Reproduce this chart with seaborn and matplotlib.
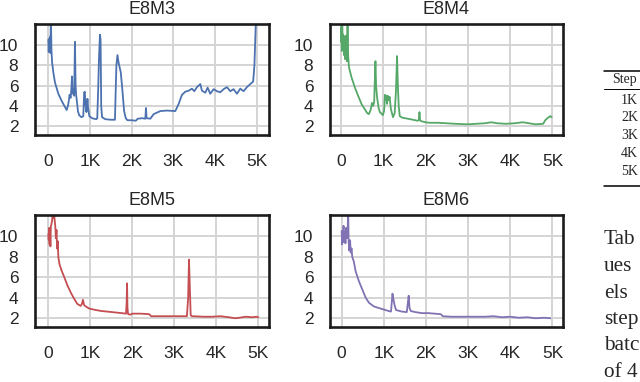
import matplotlib
matplotlib.use("Agg")
import matplotlib.pyplot as plt
import seaborn as sns
from matplotlib.lines import Line2D

# E8M3 (blue)
steps_m3 = [0, 10, 20, 30, 40, 50, 60, 75, 90, 120, 160, 240, 320, 400, 440, 470, 496, 510, 536, 555,
            568, 580, 600, 620, 640, 655, 670, 688, 710, 740, 792, 840, 860, 875, 895, 915, 940, 955,
            985, 1050, 1100, 1150, 1175, 1200, 1215, 1240, 1255, 1270, 1290, 1370, 1500, 1600, 1615,
            1635, 1660, 1690, 1740, 1780, 1820, 1860, 1900, 2000, 2100, 2150, 2250, 2330, 2345, 2360,
            2450, 2530, 2690, 2850, 3050, 3130, 3210, 3290, 3370, 3450, 3506, 3570, 3650, 3690, 3770,
            3826, 3890, 3970, 4050, 4130, 4210, 4290, 4370, 4450, 4530, 4610, 4690, 4770, 4850, 4920,
            4950, 4970, 4990]
loss_m3 = [10.5, 9.3, 10.6, 9.4, 10.8, 9.2, 13.0, 9.5, 8.3, 7.3, 6.3, 5.2, 4.5, 3.9, 3.6, 4.0, 4.6,
           5.1, 4.8, 5.8, 6.9, 5.2, 5.6, 5.0, 10.3, 6.0, 5.0, 4.4, 3.5, 3.1, 2.9, 3.0, 5.3, 5.4, 4.0,
           3.4, 4.7, 3.8, 3.0, 2.8, 2.75, 2.7, 2.8, 6.0, 8.5, 11.0, 10.5, 4.0, 2.9, 2.7, 2.65, 2.65,
           5.0, 8.0, 9.0, 8.2, 7.3, 5.5, 3.5, 2.8, 2.6, 2.6, 2.55, 2.75, 2.8, 2.75, 3.8, 2.8, 2.75,
           3.2, 3.5, 3.55, 3.5, 4.2, 5.1, 5.4, 5.5, 5.7, 5.45, 5.85, 6.15, 5.5, 5.3, 5.8, 5.2, 5.65,
           5.45, 5.35, 5.65, 5.85, 5.45, 5.65, 5.2, 5.7, 5.45, 5.85, 6.15, 6.4, 8.0, 10.5, 13.0]

# E8M4 (green)
steps_m4 = [0, 10, 20, 30, 40, 55, 70, 85, 100, 120, 140, 155, 170, 185, 200, 250, 330, 405, 485,
            560, 620, 660, 700, 735, 760, 785, 800, 815, 830, 855, 890, 920, 990, 1020, 1040, 1065,
            1090, 1105, 1125, 1150, 1180, 1230, 1270, 1300, 1326, 1345, 1365, 1390, 1450, 1580, 1700,
            1810, 1840, 1856, 1870, 1900, 2000, 2100, 2300, 2500, 2700, 3000, 3200, 3400, 3550, 3700,
            3900, 4100, 4300, 4450, 4600, 4780, 4830, 4880, 4950, 4980]
loss_m4 = [10.3, 11.8, 9.4, 12.5, 10.0, 11.0, 9.0, 10.8, 8.6, 10.9, 8.4, 12.5, 9.0, 8.0, 7.6, 6.8,
           5.8, 5.0, 4.2, 3.7, 3.3, 3.2, 3.6, 4.3, 4.0, 4.4, 6.5, 8.4, 6.0, 4.8, 3.8, 3.4, 3.1, 3.5,
           5.1, 5.0, 4.2, 5.0, 4.6, 4.9, 3.7, 2.9, 3.3, 5.5, 8.9, 6.0, 4.0, 3.0, 2.85, 2.75, 2.65,
           2.55, 2.6, 3.4, 2.6, 2.5, 2.4, 2.35, 2.35, 2.3, 2.25, 2.2, 2.25, 2.3, 2.4, 2.3, 2.25, 2.3,
           2.4, 2.3, 2.2, 2.25, 2.6, 2.8, 3.0, 2.9]

# E8M5 (red)
steps_m5 = [0, 10, 20, 30, 40, 50, 60, 75, 90, 105, 120, 135, 150, 165, 180, 195, 210, 225, 240,
            270, 320, 380, 455, 535, 615, 690, 770, 800, 825, 850, 875, 970, 1130, 1280, 1520, 1750,
            1850, 1865, 1875, 1885, 1900, 1950, 2000, 2070, 2200, 2400, 2450, 2600, 2900, 3100, 3300,
            3330, 3350, 3370, 3390, 3420, 3700, 3900, 4100, 4300, 4450, 4550, 4700, 4850, 4950, 5000]
loss_m5 = [10.2, 9.6, 10.8, 9.2, 10.5, 9.0, 10.9, 11.2, 11.5, 12.5, 11.8, 12.3, 11.6, 11.0, 9.8,
           10.6, 8.8, 9.5, 7.9, 7.2, 6.6, 6.0, 5.2, 4.5, 3.9, 3.4, 3.2, 3.4, 3.8, 3.3, 3.2, 2.95, 2.8,
           2.7, 2.6, 2.5, 2.45, 3.5, 5.4, 3.0, 2.4, 2.35, 2.45, 2.45, 2.45, 2.4, 2.2, 2.2, 2.2, 2.2,
           2.2, 4.0, 7.7, 5.0, 2.3, 2.2, 2.15, 2.15, 2.2, 2.1, 2.0, 2.05, 2.15, 2.1, 2.15, 2.1]

# E8M6 (purple)
steps_m6 = [0, 10, 20, 30, 45, 55, 70, 90, 105, 125, 140, 155, 165, 180, 200, 215, 235, 250, 290,
            330, 410, 490, 570, 650, 765, 880, 1000, 1120, 1170, 1190, 1205, 1230, 1260, 1290, 1430,
            1545, 1570, 1590, 1610, 1640, 1750, 1900, 2060, 2200, 2350, 2400, 2600, 3000, 3400, 3600,
            3800, 4000, 4200, 4400, 4600, 4800, 4950]
loss_m6 = [10.5, 9.2, 10.3, 9.5, 11.0, 9.4, 10.4, 9.3, 10.8, 9.8, 10.2, 12.5, 9.5, 8.6, 9.6, 8.4,
           8.8, 8.0, 7.5, 6.6, 5.6, 4.8, 4.0, 3.5, 3.15, 3.0, 2.85, 2.7, 2.65, 3.6, 4.4, 3.8, 3.2,
           2.8, 2.65, 2.6, 3.5, 4.2, 3.0, 2.7, 2.6, 2.5, 2.5, 2.45, 2.4, 2.2, 2.15, 2.15, 2.15, 2.2,
           2.1, 2.15, 2.05, 2.1, 2.0, 2.05, 2.0]

titles = ["E8M3", "E8M4", "E8M5", "E8M6"]
x_ticks = [0, 1000, 2000, 3000, 4000, 5000]
x_ticklabels = ["0", "1K", "2K", "3K", "4K", "5K"]
y_ticks = [2, 4, 6, 8, 10]

table_header = "Step"
table_rows = ["1K", "2K", "3K", "4K", "5K"]
caption_lines = ["Tab", "ues", "els", "step", "batc", "of 4"]

sns.set_style("whitegrid")
plt.rcParams["font.family"] = ["Liberation Sans", "DejaVu Sans"]

deep = sns.color_palette("deep")
colores = [deep[0], deep[2], deep[3], deep[4]]
series = [(steps_m3, loss_m3), (steps_m4, loss_m4), (steps_m5, loss_m5), (steps_m6, loss_m6)]

fig = plt.figure(figsize=(6.4, 3.82), dpi=100)

# posiciones de los ejes [left, bottom, width, height]
posiciones = [
    [0.0547, 0.6466, 0.3656, 0.2906],
    [0.5156, 0.6466, 0.3641, 0.2906],
    [0.0547, 0.1440, 0.3656, 0.2930],
    [0.5156, 0.1440, 0.3641, 0.2930],
]
xlims = [(-320, 5300), (-260, 5250), (-317, 5255), (-277, 5250)]

for idx, (pasos, perdida) in enumerate(series):
    ax = fig.add_axes(posiciones[idx])
    sns.lineplot(x=pasos, y=perdida, ax=ax, color=colores[idx], linewidth=1.3)
    ax.set_xlim(*xlims[idx])
    ax.set_ylim(1.15, 12.05)
    ax.set_xticks(x_ticks)
    ax.set_xticklabels(x_ticklabels)
    ax.set_yticks(y_ticks)
    ax.set_title(titles[idx], fontsize=13, pad=7)
    ax.tick_params(axis="x", length=0, pad=13.5, labelsize=12.5)
    ax.tick_params(axis="y", length=0, pad=12, labelsize=12.5)
    ax.grid(True, color="#d4d4d4", linewidth=1.4)
    for spine in ax.spines.values():
        spine.set_color("#1c1c1c")
        spine.set_linewidth(1.9)

# tabla y texto de la derecha
serif = ["Liberation Serif", "DejaVu Serif"]
H = 382.0
fig.add_artist(Line2D([604 / 640, 1], [1 - 71 / H] * 2, color="black", linewidth=1.1))
fig.add_artist(Line2D([604 / 640, 1], [1 - 89 / H] * 2, color="black", linewidth=0.7))
fig.add_artist(Line2D([604 / 640, 1], [1 - 186 / H] * 2, color="black", linewidth=1.1))
fig.text(612 / 640, 1 - 80 / H, table_header, family=serif, fontsize=10, va="center", ha="left")
for i, fila in enumerate(table_rows):
    fig.text(621 / 640, 1 - (100 + i * 17.8) / H, fila, family=serif, fontsize=10,
             va="center", ha="left")
for i, linea in enumerate(caption_lines):
    fig.text(604 / 640, 1 - (240 + i * 26.5) / H, linea, family=serif, fontsize=15.3,
             va="center", ha="left")

plt.savefig("out.png", dpi=100)
